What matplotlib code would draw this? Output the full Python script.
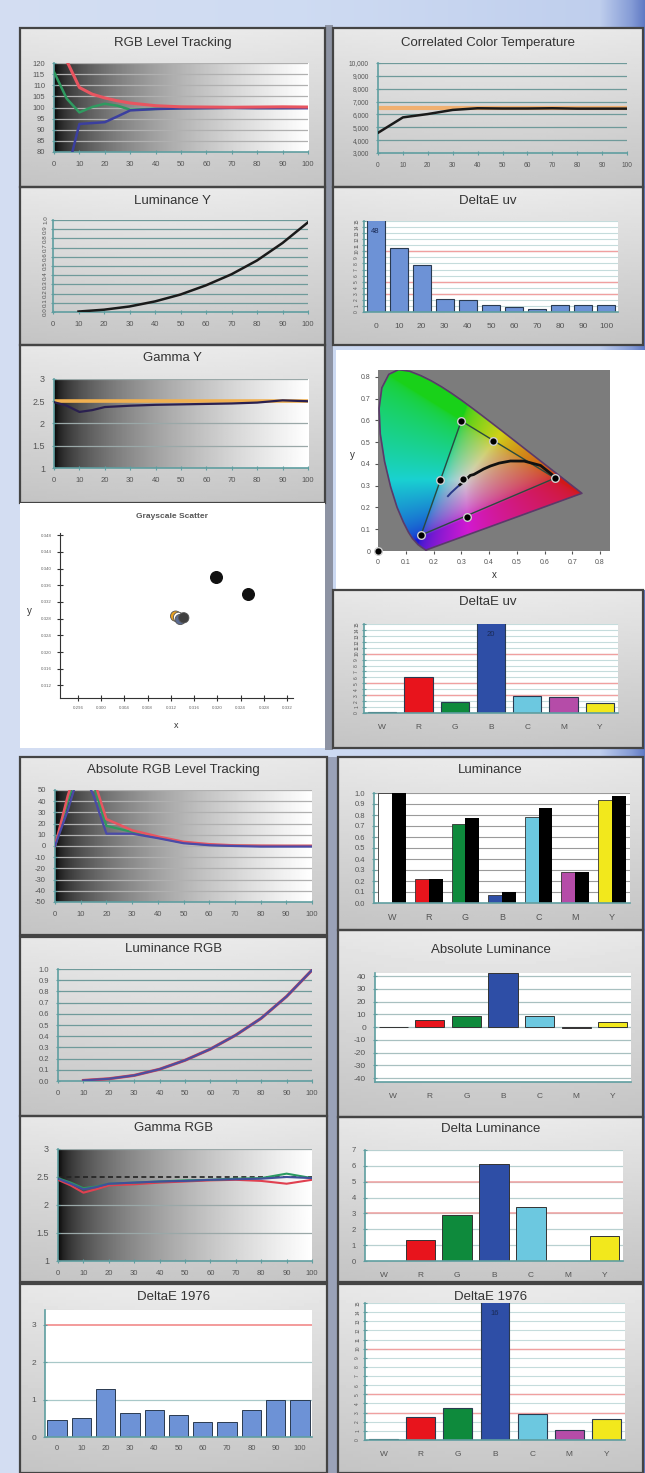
import numpy as np
import matplotlib.pyplot as plt
from matplotlib.patches import Rectangle
from matplotlib.path import Path

plt.rcParams['font.family'] = ['Liberation Sans', 'DejaVu Sans']
plt.rcParams['axes.unicode_minus'] = False

# ---- data ----
lvl_x = [0, 5, 10, 15, 20, 25, 30, 40, 50, 60, 70, 80, 90, 100]
lvl_red = [135, 121, 109, 106, 104.3, 103, 102, 100.8, 100.3, 100.2, 100.1, 100.2, 100.3, 100.2]
lvl_green = [116, 104, 97.8, 100.2, 101.7, 100.8, 99, 99.4, 99.7, 99.8, 99.9, 99.8, 99.8, 99.9]
lvl_blue = [60, 70, 92.6, 93, 93.4, 96, 98.7, 99.3, 99.6, 99.7, 99.8, 99.7, 99.7, 99.7]

x10 = [0, 10, 20, 30, 40, 50, 60, 70, 80, 90, 100]
cct = [4570, 5770, 6030, 6350, 6480, 6460, 6460, 6480, 6450, 6450, 6450]
cct_target = 6500

lum_x = [10, 20, 30, 40, 50, 60, 70, 80, 90, 100]
lum_y = [0.005, 0.025, 0.06, 0.115, 0.19, 0.29, 0.41, 0.56, 0.75, 0.975]

de_uv_gray = [48, 10.6, 7.8, 2.2, 1.9, 1.2, 0.77, 0.55, 1.1, 1.2, 1.1]

gam_x = [0, 5, 10, 15, 20, 30, 40, 50, 60, 70, 80, 90, 100]
gam_y = [2.48, 2.4, 2.26, 2.3, 2.37, 2.4, 2.42, 2.43, 2.44, 2.45, 2.47, 2.52, 2.5]
gam_target = 2.5

locus_x = [0.1741, 0.1714, 0.1644, 0.1566, 0.1440, 0.1241, 0.1096, 0.0913, 0.0687, 0.0454,
           0.0235, 0.0082, 0.0039, 0.0139, 0.0389, 0.0743, 0.1142, 0.1547, 0.1929, 0.2296,
           0.2658, 0.3016, 0.3373, 0.3731, 0.4087, 0.4441, 0.4788, 0.5125, 0.5448, 0.5752,
           0.6029, 0.6270, 0.6658, 0.6915, 0.7190, 0.7347]
locus_y = [0.0050, 0.0051, 0.0109, 0.0177, 0.0297, 0.0578, 0.0868, 0.1327, 0.2007, 0.2950,
           0.4127, 0.5384, 0.6548, 0.7502, 0.8120, 0.8338, 0.8262, 0.8059, 0.7816, 0.7543,
           0.7243, 0.6923, 0.6589, 0.6245, 0.5896, 0.5547, 0.5202, 0.4866, 0.4544, 0.4242,
           0.3965, 0.3725, 0.3340, 0.3083, 0.2809, 0.2653]
planck_x = [0.2521, 0.2637, 0.2807, 0.2952, 0.3135, 0.3324, 0.3451, 0.3805, 0.4053, 0.4369,
            0.4770, 0.5267, 0.5857, 0.6400]
planck_y = [0.2522, 0.2683, 0.2883, 0.3048, 0.3237, 0.3474, 0.3516, 0.3768, 0.3907, 0.4041,
            0.4137, 0.4133, 0.3931, 0.3380]
gamut_x = [0.638, 0.300, 0.155, 0.638]
gamut_y = [0.335, 0.598, 0.073, 0.335]
cie_pts_x = [0.638, 0.300, 0.155, 0.223, 0.415, 0.320, 0.306, 0.0]
cie_pts_y = [0.335, 0.598, 0.073, 0.326, 0.506, 0.156, 0.330, 0.0]

scat_x = [0.3198, 0.3253]
scat_y = [0.3379, 0.3338]
clus_x = [0.3128, 0.3133, 0.3136, 0.3142]
clus_y = [0.3286, 0.3283, 0.3278, 0.3282]
clus_c = ['#e8a020', '#ffffff', '#5a6a90', '#404040']

cats = ['W', 'R', 'G', 'B', 'C', 'M', 'Y']
cat_colors = ['#ffffff', '#e8141c', '#0e8a3c', '#2e4ea6', '#6cc8e0', '#b54ca8', '#f2e81c']
de_uv_rgb = [0.2, 6.0, 1.85, 20, 2.8, 2.7, 1.7]

abs_x = [0, 5, 10, 15, 20, 30, 40, 50, 60, 70, 80, 90, 100]
abs_red = [0, 45, 80, 60, 24, 14, 8.5, 3.7, 1.6, 0.5, 0.3, 0.2, 0.2]
abs_green = [0, 40, 75, 55, 18, 12.5, 7.5, 3, 1, 0.3, 0, 0, 0]
abs_blue = [0, 32, 70, 45, 11, 11, 7, 2.5, 0.7, 0, -0.5, -0.5, -0.5]

lum_meas = [1.0, 0.22, 0.717, 0.07, 0.783, 0.28, 0.934]
lum_ref = [1.0, 0.22, 0.777, 0.096, 0.864, 0.28, 0.97]

lumrgb_y = [0.005, 0.02, 0.05, 0.105, 0.185, 0.285, 0.41, 0.56, 0.755, 0.99]

gam_r = [2.45, 2.35, 2.22, 2.28, 2.35, 2.37, 2.4, 2.42, 2.44, 2.45, 2.43, 2.38, 2.45]
gam_g = [2.48, 2.4, 2.3, 2.33, 2.38, 2.4, 2.42, 2.44, 2.45, 2.47, 2.48, 2.56, 2.48]
gam_b = [2.47, 2.38, 2.28, 2.32, 2.38, 2.4, 2.42, 2.43, 2.45, 2.46, 2.47, 2.5, 2.48]

abs_lum = [0, 5.7, 8.4, 42.3, 9.1, -0.8, 4.4]
delta_lum = [0, 1.3, 2.9, 6.1, 3.4, 0, 1.6]

de76_gray = [0.45, 0.52, 1.28, 0.65, 0.72, 0.6, 0.4, 0.4, 0.72, 1.0, 0.98]
de76_rgb = [0.15, 2.5, 3.5, 16, 2.85, 1.1, 2.3]

# ---- figure ----
W, H = 645, 1473
fig = plt.figure(figsize=(W / 100, H / 100), dpi=100)


def px_axes(x0, y0, x1, y1):
    return fig.add_axes([x0 / W, 1 - y1 / H, (x1 - x0) / W, (y1 - y0) / H])


bg = px_axes(0, 0, W, H)
bg.axis('off')
gx = np.linspace(0, W, W)
cols = np.array([[0.83, 0.87, 0.95], [0.81, 0.86, 0.95], [0.75, 0.81, 0.93],
                 [0.52, 0.61, 0.84], [0.38, 0.48, 0.77]])
stops = [0, 300, 600, 632, 645]
row = np.stack([np.interp(gx, stops, cols[:, i]) for i in range(3)], axis=-1)
bg.imshow(row[None, :, :], extent=[0, W, H, 0], aspect='auto')
# darker strips between columns
bg.add_patch(Rectangle((325, 25), 8, 725, fc='#8d93a3', ec='none'))
bg.add_patch(Rectangle((327, 757), 11, 716, fc='#9aa2b8', ec='none'))


def panel(x0, y0, x1, y1, title, ty, white=False):
    if white:
        bg.add_patch(Rectangle((x0, y0), x1 - x0, y1 - y0, fc='white', ec='none'))
    else:
        g = np.linspace(0.92, 0.78, 60)[:, None] * np.ones((1, 40))
        edge = np.minimum(1, 0.985 + 0.015 * np.sin(np.linspace(0, np.pi, 40)))
        bg.imshow(g * edge, extent=[x0, x1, y1, y0], aspect='auto', cmap='gray', vmin=0, vmax=1)
        bg.add_patch(Rectangle((x0, y0), x1 - x0, y1 - y0, fill=False, ec='#444444', lw=1.6))
    if title:
        bg.text((x0 + x1) / 2, ty, title, ha='center', va='center', fontsize=9.5, color='#333333')


def style(ax, spine='#5f9ea0', size=5.5):
    for s in ['top', 'right']:
        ax.spines[s].set_visible(False)
    for s in ['left', 'bottom']:
        ax.spines[s].set_color(spine)
        ax.spines[s].set_linewidth(1.2)
    ax.tick_params(length=3, width=0.8, color=spine, labelsize=size, labelcolor='#555555',
                   direction='inout', pad=5)


def gray_grad(ax, y0, y1):
    gxx = np.linspace(0, 1, 200) ** 0.5
    ax.imshow(gxx[None, :], extent=[0, 100, y0, y1], aspect='auto', cmap='gray',
              vmin=0, vmax=1, zorder=0)


def hgrid(ax, vals, color='#a8a8a8', lw=0.9, z=1):
    for v in vals:
        ax.axhline(v, color=color, lw=lw, zorder=z)


def xaxis100(ax):
    ax.set_xlim(0, 100)
    ax.set_xticks(x10)
    ax.set_xticklabels([str(v) for v in x10])


# 1 RGB Level Tracking
panel(20, 28, 325, 187, 'RGB Level Tracking', 43)
ax = px_axes(54, 63, 308, 152)
gray_grad(ax, 80, 120)
hgrid(ax, range(85, 121, 5), color='#b0b0b0')
ax.plot(lvl_x, lvl_green, color='#2f9a60', lw=1.8, zorder=3)
ax.plot(lvl_x, lvl_blue, color='#3b3f9f', lw=1.8, zorder=3)
ax.plot(lvl_x, lvl_red, color='#e85560', lw=2.2, zorder=4)
xaxis100(ax)
ax.set_ylim(80, 120)
ax.set_yticks(range(80, 121, 5))
style(ax)

# 2 Correlated Color Temperature
panel(333, 28, 643, 187, 'Correlated Color Temperature', 43)
ax = px_axes(378, 63, 627, 153)
ax.patch.set_alpha(0)
hgrid(ax, range(4000, 10001, 1000), color='#6f9a9a', lw=0.9)
ax.axhline(cct_target, color='#f0b070', lw=3, zorder=2)
ax.plot(x10, cct, color='#1a1a1a', lw=1.8, zorder=3)
xaxis100(ax)
ax.set_ylim(3000, 10000)
ax.set_yticks(range(3000, 10001, 1000))
ax.set_yticklabels(['{:,}'.format(v) for v in range(3000, 10001, 1000)])
style(ax, size=4.8)

# 3 Luminance Y
panel(20, 187, 325, 345, 'Luminance Y', 201)
ax = px_axes(53, 220, 308, 312)
ax.patch.set_alpha(0)
hgrid(ax, np.arange(0.1, 1.01, 0.1), color='#6f9a9a', lw=0.9)
ax.plot(lum_x, lum_y, color='#1a1a1a', lw=1.8, zorder=3)
xaxis100(ax)
ax.set_ylim(0, 1)
ax.set_yticks(np.arange(0, 1.01, 0.1))
ax.set_yticklabels(['%.1f' % v for v in np.arange(0, 1.01, 0.1)], rotation=90, va='center')
style(ax)
ax.tick_params(axis='y', labelsize=4.5, pad=2)


def de_bars(ax, labels, vals, colors, top):
    ax.set_facecolor('white')
    hgrid(ax, range(1, top + 1), color='#c5dcdc', lw=0.8, z=0)
    hgrid(ax, [3, 5, 10], color='#f0a0a0', lw=1.0, z=0)
    ax.bar(range(len(vals)), vals, width=0.78, color=colors, edgecolor='#2a3a50', lw=0.8, zorder=2)
    ax.set_xlim(-0.5, len(vals) - 0.5)
    ax.set_ylim(0, top)
    ax.set_xticks(range(len(vals)))
    ax.set_xticklabels(labels)
    ax.set_yticks(range(0, top + 1))
    ax.set_yticklabels([str(v) for v in range(0, top + 1)], rotation=90, va='center')
    style(ax)
    ax.tick_params(axis='y', labelsize=3.5, pad=2)
    ax.tick_params(axis='x', length=0, labelsize=6, pad=8)


# 4 DeltaE uv
panel(333, 187, 643, 345, 'DeltaE uv', 201)
ax = px_axes(364, 221, 618, 312)
de_bars(ax, [str(v) for v in x10], de_uv_gray, '#6d92d6', 15)
ax.text(0, 13.2, '48', ha='center', va='center', fontsize=5.5, color='#1a2a55')

# 5 Gamma Y
panel(20, 345, 325, 503, 'Gamma Y', 358)
ax = px_axes(54, 379, 308, 468)
gray_grad(ax, 1, 3)
hgrid(ax, [1.5, 2, 2.5, 3], color='#9aa8a8')
ax.axhline(gam_target, color='#f0b050', lw=2.6, zorder=2)
ax.plot(gam_x, gam_y, color='#2a2050', lw=1.6, zorder=3)
xaxis100(ax)
ax.set_ylim(1, 3)
ax.set_yticks([1, 1.5, 2, 2.5, 3])
ax.set_yticklabels(['1', '1.5', '2', '2.5', '3'])
style(ax, size=6.5)
ax.tick_params(axis='x', labelsize=5.5)

# 6 CIE diagram
panel(336, 350, 645, 590, '', 0, white=True)
ax = px_axes(378, 370, 610, 551)
ax.set_facecolor('#7c7c7c')
n = 300
xx, yy = np.meshgrid(np.linspace(0.0, 0.75, n), np.linspace(0.001, 0.85, n))
XYZ = np.stack([xx / yy, np.ones_like(xx), (1 - xx - yy) / yy])
M = np.array([[3.2406, -1.5372, -0.4986], [-0.9689, 1.8758, 0.0415], [0.0557, -0.2040, 1.0570]])
rgb = np.einsum('ij,jkl->kli', M, XYZ)
rgb = np.clip(rgb, 0, None)
rgb = rgb / rgb.max(axis=2, keepdims=True).clip(1e-6)
rgb = rgb ** (1 / 2.2)
rgb = 0.72 * rgb + 0.1
inside = Path(np.column_stack([locus_x, locus_y])).contains_points(
    np.column_stack([xx.ravel(), yy.ravel()])).reshape(n, n)
img = np.dstack([rgb, inside.astype(float)])
ax.imshow(img, extent=[0, 0.75, 0.001, 0.85], origin='lower', aspect='auto', zorder=1)
ax.plot(locus_x + locus_x[:1], locus_y + locus_y[:1], color='#5a3a6a', lw=1.2, zorder=2)
ax.plot(gamut_x, gamut_y, color='#2a4a40', lw=1.0, zorder=3)
ax.plot(planck_x[:4], planck_y[:4], color='#2a3a8a', lw=1.4, zorder=3)
ax.plot(planck_x[3:], planck_y[3:], color='#111111', lw=2.0, zorder=3)
ax.plot(cie_pts_x, cie_pts_y, 'o', ms=5.5, mfc='black', mec='#d0d0d0', mew=1.0, zorder=4,
        clip_on=False)
ax.set_xlim(0, 0.836)
ax.set_ylim(0, 0.832)
ax.set_xticks(np.arange(0, 0.81, 0.1))
ax.set_xticklabels(['0'] + ['%.1f' % v for v in np.arange(0.1, 0.81, 0.1)])
ax.set_yticks(np.arange(0, 0.81, 0.1))
ax.set_yticklabels(['0'] + ['%.1f' % v for v in np.arange(0.1, 0.81, 0.1)])
for s in ax.spines.values():
    s.set_visible(False)
ax.tick_params(length=2, color='#555555', labelsize=5, labelcolor='#555555')
ax.set_xlabel('x', fontsize=7, color='#333333', labelpad=3)
ax.set_ylabel('y', fontsize=7, color='#333333', rotation=0, labelpad=6)

# 7 Grayscale Scatter
panel(20, 503, 325, 748, '', 0, white=True)
bg.text(172, 517, 'Grayscale Scatter', ha='center', va='center', fontsize=6, color='#555555',
        fontweight='bold')
ax = px_axes(60, 533, 293, 698)
ax.patch.set_alpha(0)
ax.scatter(scat_x, scat_y, s=70, color='#111111', zorder=3)
ax.scatter(clus_x, clus_y, s=55, c=clus_c, edgecolors='#555555', linewidths=0.6, zorder=3)
ax.set_xlim(0.2929, 0.333)
ax.set_ylim(0.309, 0.3485)
ax.set_xticks(np.arange(0.296, 0.3321, 0.004))
ax.set_xticklabels(['%.3f' % v for v in np.arange(0.296, 0.3321, 0.004)])
ax.set_yticks(np.arange(0.312, 0.3481, 0.004))
ax.set_yticklabels(['%.3f' % v for v in np.arange(0.312, 0.3481, 0.004)])
for s in ['top', 'right']:
    ax.spines[s].set_visible(False)
for s in ['left', 'bottom']:
    ax.spines[s].set_color('#333333')
ax.tick_params(length=5, direction='inout', color='#333333', labelsize=3.2, labelcolor='#666666')
ax.set_xlabel('x', fontsize=6.5, color='#333333', labelpad=8)
ax.set_ylabel('y', fontsize=7, color='#333333', rotation=0, labelpad=8)

# 8 DeltaE uv RGB
panel(333, 590, 643, 748, 'DeltaE uv', 602)
ax = px_axes(364, 624, 618, 713)
de_bars(ax, cats, de_uv_rgb, cat_colors, 15)
ax.text(3, 13.2, '20', ha='center', va='center', fontsize=5.5, color='#1a2a55')

# 9 Absolute RGB Level Tracking
panel(20, 757, 327, 935, 'Absolute RGB Level Tracking', 770)
ax = px_axes(55, 790, 312, 902)
gray_grad(ax, -50, 50)
hgrid(ax, range(-40, 51, 10), color='#b0b0b0')
ax.plot(abs_x, abs_green, color='#2f9a60', lw=1.6, zorder=3)
ax.plot(abs_x, abs_red, color='#e85560', lw=1.8, zorder=3)
ax.plot(abs_x, abs_blue, color='#4a4aa8', lw=1.6, zorder=4)
xaxis100(ax)
ax.set_ylim(-50, 50)
ax.set_yticks(range(-50, 51, 10))
style(ax)

# 10 Luminance
panel(338, 757, 643, 930, 'Luminance', 770)
ax = px_axes(374, 793, 630, 903)
ax.set_facecolor('white')
hgrid(ax, np.arange(0.1, 1.01, 0.1), color='#9a9a9a', lw=0.8, z=0)
pos = np.arange(len(cats))
ax.bar(pos - 0.19, lum_meas, width=0.38, color=cat_colors, edgecolor='#333333', lw=0.6, zorder=2)
ax.bar(pos + 0.19, lum_ref, width=0.38, color='black', zorder=2)
ax.set_xlim(-0.5, len(cats) - 0.5)
ax.set_ylim(0, 1)
ax.set_xticks(pos)
ax.set_xticklabels(cats)
ax.set_yticks(np.arange(0, 1.01, 0.1))
ax.set_yticklabels(['%.1f' % v for v in np.arange(0, 1.01, 0.1)])
style(ax)
ax.tick_params(axis='x', length=0, labelsize=6.5, pad=7)

# 11 Luminance RGB
panel(20, 937, 327, 1116, 'Luminance RGB', 949)
ax = px_axes(58, 969, 312, 1081)
ax.patch.set_alpha(0)
hgrid(ax, np.arange(0.1, 1.01, 0.1), color='#6f9a9a', lw=0.9)
ax.plot(lum_x, lumrgb_y, color='#e04050', lw=2.2, zorder=3)
ax.plot(lum_x, lumrgb_y, color='#4b4f9f', lw=1.6, zorder=4)
xaxis100(ax)
ax.set_ylim(0, 1)
ax.set_yticks(np.arange(0, 1.01, 0.1))
ax.set_yticklabels(['%.1f' % v for v in np.arange(0, 1.01, 0.1)])
style(ax)

# 12 Absolute Luminance
panel(338, 930, 643, 1117, 'Absolute Luminance', 950)
ax = px_axes(375, 973, 631, 1082)
ax.set_facecolor('white')
hgrid(ax, range(-40, 41, 10), color='#a8c0c0', lw=0.9, z=0)
ax.bar(range(len(cats)), abs_lum, width=0.8, color=cat_colors, edgecolor='#333333', lw=0.7, zorder=2)
ax.set_xlim(-0.5, len(cats) - 0.5)
ax.set_ylim(-43, 42.5)
ax.set_xticks(range(len(cats)))
ax.set_xticklabels(cats)
ax.set_yticks(range(-40, 41, 10))
style(ax, size=6)
ax.tick_params(axis='x', length=0, labelsize=6, pad=8)

# 13 Gamma RGB
panel(20, 1116, 327, 1282, 'Gamma RGB', 1128)
ax = px_axes(58, 1149, 312, 1261)
gray_grad(ax, 1, 3)
hgrid(ax, [1.5, 2, 3], color='#9aa8a8')
ax.axhline(gam_target, color='#222222', lw=1.2, ls=(0, (3, 2)), zorder=2)
ax.plot(gam_x, gam_r, color='#e04050', lw=1.5, zorder=3)
ax.plot(gam_x, gam_g, color='#2a9a60', lw=1.5, zorder=3)
ax.plot(gam_x, gam_b, color='#40509a', lw=1.5, zorder=4)
xaxis100(ax)
ax.set_ylim(1, 3)
ax.set_yticks([1, 1.5, 2, 2.5, 3])
ax.set_yticklabels(['1', '1.5', '2', '2.5', '3'])
style(ax, size=6.5)
ax.tick_params(axis='x', labelsize=5.5)

# 14 Delta Luminance
panel(338, 1117, 643, 1282, 'Delta Luminance', 1129)
ax = px_axes(365, 1150, 623, 1261)
ax.set_facecolor('white')
hgrid(ax, range(1, 8), color='#b8d0d0', lw=0.9, z=0)
hgrid(ax, [3, 5], color='#f0a0a0', lw=1.1, z=0)
ax.bar(range(len(cats)), delta_lum, width=0.8, color=cat_colors, edgecolor='#333333', lw=0.7, zorder=2)
ax.set_xlim(-0.5, len(cats) - 0.5)
ax.set_ylim(0, 7)
ax.set_xticks(range(len(cats)))
ax.set_xticklabels(cats)
ax.set_yticks(range(0, 8))
style(ax, size=5.5)
ax.tick_params(axis='x', length=0, labelsize=6, pad=8)

# 15 DeltaE 1976 grayscale
panel(20, 1284, 327, 1473, 'DeltaE 1976', 1297)
ax = px_axes(45, 1310, 312, 1437)
ax.set_facecolor('white')
hgrid(ax, [1, 2], color='#a8c8c8', lw=0.9, z=0)
hgrid(ax, [3], color='#f08080', lw=1.1, z=0)
ax.bar(range(len(x10)), de76_gray, width=0.8, color='#6d92d6', edgecolor='#2a3a50', lw=0.7, zorder=2)
ax.set_xlim(-0.5, len(x10) - 0.5)
ax.set_ylim(0, 3.4)
ax.set_xticks(range(len(x10)))
ax.set_xticklabels([str(v) for v in x10])
ax.set_yticks([0, 1, 2, 3])
style(ax, size=6)
ax.tick_params(axis='x', length=0, labelsize=5.5, pad=6)

# 16 DeltaE 1976 RGB
panel(338, 1284, 643, 1473, 'DeltaE 1976', 1297)
ax = px_axes(365, 1303, 625, 1440)
de_bars(ax, cats, de76_rgb, cat_colors, 15)
ax.text(3, 13.8, '16', ha='center', va='center', fontsize=5.5, color='#1a2a55')

bg.set_xlim(0, W)
bg.set_ylim(H, 0)

fig.savefig('out.png', dpi=100)
